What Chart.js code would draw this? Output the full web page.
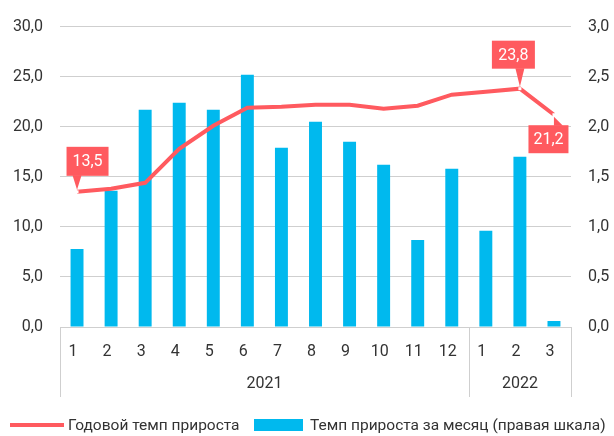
<!DOCTYPE html>
<html>
<head>
<meta charset="utf-8">
<script src="https://cdn.jsdelivr.net/npm/chart.js@4"></script>
<style>
  body { margin: 0; background: #fff; }
  #wrap { position: relative; width: 614px; height: 436px; }
  #legend { position: absolute; left: 0; top: 414px; width: 614px; height: 22px;
            font: 15.5px Roboto, sans-serif; color: #333; }
  #legend span { position: absolute; top: 0; line-height: 22px; white-space: nowrap; }
  .key { position: absolute; }
</style>
</head>
<body>
<div id="wrap">
  <canvas id="chart" width="614" height="436"></canvas>
  <div id="legend">
    <div class="key" style="left:10px;top:9px;width:54px;height:4px;background:#FF5A5F"></div>
    <span style="left:68px">Годовой темп прироста</span>
    <div class="key" style="left:254px;top:5px;width:49px;height:12px;background:#00B9EE"></div>
    <span style="left:310px">Темп прироста за месяц (правая шкала)</span>
  </div>
</div>
<script>
const months = ['1','2','3','4','5','6','7','8','9','10','11','12','1','2','3'];
const years = ['2021', '2022'];
const yearSpans = [12, 3];
const annualGrowth = [13.5, 13.8, 14.4, 17.8, 20.1, 21.9, 22.0, 22.2, 22.2, 21.8, 22.1, 23.2, 23.5, 23.8, 21.2];
const monthlyGrowth = [0.78, 1.36, 2.17, 2.24, 2.17, 2.52, 1.79, 2.05, 1.85, 1.62, 0.87, 1.58, 0.96, 1.70, 0.06];
const calloutIdx = [0, 13, 14];

const RED = '#FF5A5F';
const CYAN = '#00B9EE';
const GRID = '#CFCFCF';
const TXT = '#333333';
const FONT = 'Roboto, sans-serif';

const fmt = (v) => Number(v).toFixed(1).replace('.', ',');

// box offsets relative to the point
const calloutPos = {
  0: { dx: -10.5, dy: -45, w: 42, h: 29 },
  13: { dx: -28, dy: -48, w: 43, h: 28 },
  14: { dx: -25.5, dy: 10.5, w: 40, h: 28 }
};

const extras = {
  id: 'extras',
  afterDatasetsDraw(chart) {
    const ctx = chart.ctx;
    const meta = chart.getDatasetMeta(0);
    ctx.save();
    ctx.font = '16px ' + FONT;
    ctx.textAlign = 'center';
    ctx.textBaseline = 'middle';
    calloutIdx.forEach(i => {
      const p = meta.data[i];
      const c = calloutPos[i];
      const bx = p.x + c.dx, by = p.y + c.dy;
      ctx.fillStyle = RED;
      ctx.fillRect(bx, by, c.w, c.h);
      ctx.beginPath();
      if (c.dy < 0) {
        ctx.moveTo(p.x - 4.5, by + c.h - 0.5);
        ctx.lineTo(p.x + 4.5, by + c.h - 0.5);
        ctx.lineTo(p.x, p.y - 2);
      } else {
        ctx.moveTo(p.x, by + 0.5);
        ctx.lineTo(p.x + 9, by + 0.5);
        ctx.lineTo(p.x, p.y + 2);
      }
      ctx.closePath();
      ctx.fill();
      ctx.fillStyle = '#fff';
      ctx.fillRect(p.x - 1.5, p.y - 1.5, 3, 3);
      ctx.fillText(fmt(annualGrowth[i]), bx + c.w / 2, by + c.h / 2 + 1);
    });
    ctx.restore();
  },
  afterDraw(chart) {
    const ctx = chart.ctx;
    const x = chart.scales.x;
    const area = chart.chartArea;
    const half = (x.getPixelForValue(1) - x.getPixelForValue(0)) / 2;
    ctx.save();
    ctx.strokeStyle = GRID;
    ctx.lineWidth = 1;
    let start = 0;
    const edges = [x.left];
    yearSpans.forEach(n => { start += n; edges.push(x.getPixelForValue(start - 1) + half); });
    edges.forEach(e => {
      const px = Math.round(e) + 0.5;
      ctx.beginPath();
      ctx.moveTo(px, area.bottom);
      ctx.lineTo(px, area.bottom + 70);
      ctx.stroke();
    });
    ctx.fillStyle = TXT;
    ctx.font = '16px ' + FONT;
    ctx.textAlign = 'center';
    ctx.textBaseline = 'middle';
    years.forEach((yr, k) => {
      ctx.fillText(yr, (edges[k] + edges[k + 1]) / 2, area.bottom + 57);
    });
    ctx.restore();
  }
};

const ctx = document.getElementById('chart').getContext('2d');
const myChart = new Chart(ctx, {
  data: {
    labels: months,
    datasets: [{
      type: 'line',
      label: 'Годовой темп прироста',
      data: annualGrowth,
      yAxisID: 'y',
      borderColor: RED,
      backgroundColor: RED,
      borderWidth: 4,
      pointRadius: 0,
      tension: 0,
      order: 0
    }, {
      type: 'bar',
      label: 'Темп прироста за месяц (правая шкала)',
      data: monthlyGrowth,
      yAxisID: 'y1',
      backgroundColor: CYAN,
      barPercentage: 0.38,
      categoryPercentage: 1,
      order: 1
    }]
  },
  options: {
    responsive: false,
    animation: false,
    layout: { padding: { top: 25 } },
    plugins: { legend: { display: false }, tooltip: { enabled: false } },
    scales: {
      x: {
        offset: true,
        grid: { display: false, drawTicks: false },
        border: { display: false },
        ticks: { color: TXT, font: { family: FONT, size: 16 }, padding: 15, labelOffset: -4, maxRotation: 0, autoSkip: false },
        afterFit: (s) => { s.height = 109; }
      },
      y: {
        position: 'left',
        min: 0, max: 30,
        grid: { color: GRID, drawTicks: false },
        border: { display: false },
        ticks: { stepSize: 5, color: TXT, font: { family: FONT, size: 16 }, padding: 17, callback: (v) => fmt(v) },
        afterFit: (s) => { s.width = 60; }
      },
      y1: {
        position: 'right',
        min: 0, max: 3,
        grid: { drawOnChartArea: false, drawTicks: false },
        border: { display: false },
        ticks: { stepSize: 0.5, color: TXT, font: { family: FONT, size: 16 }, padding: 17, callback: (v) => fmt(v) },
        afterFit: (s) => { s.width = 43; }
      }
    }
  },
  plugins: [extras]
});
</script>
</body>
</html>
